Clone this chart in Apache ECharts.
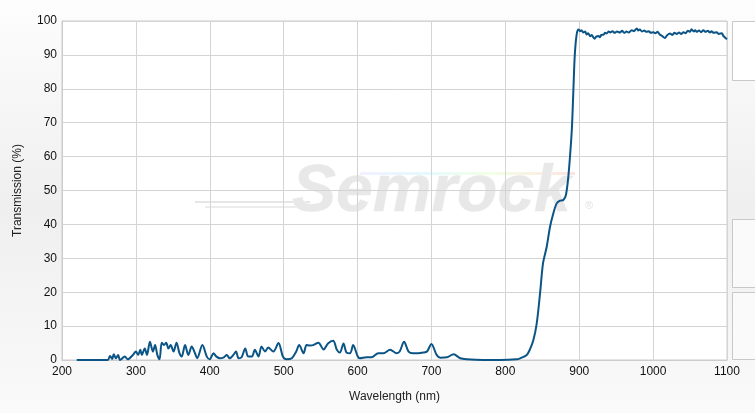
<!DOCTYPE html>
<html>
<head>
<meta charset="utf-8">
<script src="https://cdn.jsdelivr.net/npm/echarts@6/dist/echarts.min.js"></script>
<style>
html,body{margin:0;padding:0;width:755px;height:413px;overflow:hidden;}
#c{width:755px;height:413px;}
</style>
</head>
<body>
<div id="c"></div>
<script>
// Wavelength (nm) samples
const wavelength = [
  220, 238, 262, 265, 268, 270, 273, 276, 278.5, 285, 289, 296, 300, 303, 306, 308, 312, 315, 319, 323,
  326, 329, 332, 335, 338, 341, 344, 347, 351, 355, 359, 362, 366.5, 371, 375.5, 380, 383, 390, 396, 400,
  405, 409, 414, 419, 423, 427, 432, 435.5, 439, 443, 448, 452, 457, 461, 466, 470, 475, 479, 486, 493,
  499, 504, 511, 517, 521, 527, 531, 536, 540, 547, 554, 560, 567, 572, 576, 581, 585, 590, 594, 600,
  603, 612, 619, 628, 635, 644, 653, 657, 663, 669, 675, 682, 689, 694, 700, 707, 712, 721, 730, 739,
  748, 770, 793, 815, 820, 829, 833, 838, 842.5, 847, 851, 856, 860.5, 865, 869.5, 874, 878.5, 882, 885, 887.5,
  890, 892, 894, 896.5,
  899, 901, 903, 905.5, 908, 910, 912, 915, 917, 919, 921, 923, 926, 928, 930, 933, 935, 937, 940, 942,
  945, 948, 951, 955, 958, 961, 964, 967, 971, 974, 978, 980, 982, 985, 988, 991, 994, 997, 1000, 1003,
  1006, 1009, 1012, 1016, 1019, 1023, 1026, 1029, 1032, 1035, 1038, 1041, 1044, 1047, 1050, 1052, 1055, 1057, 1059, 1062,
  1065, 1068, 1071, 1074, 1077, 1079, 1082, 1086, 1089, 1093, 1095, 1097, 1100
];
// Transmission (%) values
const transmission = [
  0, 0, 0, 1.2, 0.3, 1.7, 0.5, 1.5, 0, 1, 0.2, 1.5, 2.5, 1.5, 3, 1.5, 3.4, 1.5, 5.4, 2.5,
  4.4, 1.5, 0.2, 5.1, 4.4, 5.1, 3.4, 4.4, 2.5, 5.1, 2, 1, 4.4, 1.5, 4, 2, 0.5, 4.4, 1, 0.2,
  2, 1, 0.5, 0.8, 1.5, 0.5, 1.5, 2.5, 0.5, 0.8, 3.4, 1, 1, 3, 1, 4, 2.5, 3.7, 2.5, 5,
  1, 0.2, 0.5, 2.5, 4.4, 2, 4.4, 4.3, 4.4, 5.1, 3.1, 4.9, 5.7, 3, 2.2, 4.9, 2.2, 2, 4.4, 1.2,
  0.5, 0.8, 0.8, 2, 2, 3, 2, 2.5, 5.4, 2.5, 2, 2, 2.2, 2.5, 4.7, 1.5, 0.7, 0.8, 1.7, 0.5,
  0.2, 0, 0, 0.2, 0.5, 1.5, 3, 5.9, 10.8, 19.7, 28.5, 33.4, 39.3, 43.3, 46.2, 47, 47.2, 48.7, 53.5, 60,
  68, 79, 90, 96,
  97.5, 97.0, 97.3, 96.6, 96.9, 96.0, 96.4, 95.5, 95.9, 95.2, 94.8, 95.4, 95.6, 95.2, 95.9, 96.0, 96.5, 96.3, 96.9, 96.6,
  97.0, 96.5, 96.9, 96.6, 97.1, 96.5, 96.9, 96.6, 97.3, 97.0, 97.8, 97.2, 97.5, 96.9, 97.2, 96.8, 97.0, 96.5, 96.7, 96.4,
  96.8, 96.0, 95.6, 95.0, 95.8, 96.3, 95.9, 96.5, 96.2, 96.6, 96.2, 96.7, 96.4, 97.1, 96.8, 97.6, 96.9, 97.3, 96.8, 97.2,
  96.7, 97.3, 96.8, 97.1, 96.6, 97.0, 96.5, 96.7, 96.2, 96.4, 95.6, 95.2, 94.6
];
const xTicks = [200, 1100, 100];   // min, max, interval
const yTicks = [0, 100, 10];

const seriesData = wavelength.map((w, i) => [w, transmission[i]]);

const chart = echarts.init(document.getElementById('c'), null, {renderer: 'canvas'});
const font = 'Arial, "Liberation Sans", sans-serif';

chart.setOption({
  animation: false,
  backgroundColor: {
    type: 'linear', x: 0, y: 0, x2: 0, y2: 1,
    colorStops: [
      {offset: 0, color: '#fdfdfd'},
      {offset: 0.5, color: '#efefef'},
      {offset: 1, color: '#fafafa'}
    ]
  },
  grid: {left: 62, right: 28, top: 21, bottom: 53, show: true, backgroundColor: '#ffffff', borderColor: '#cccccc', borderWidth: 1},
  graphic: [
    // side panels
    {type: 'rect', shape: {x: 732.5, y: 21.5, width: 30, height: 59}, style: {fill: '#ffffff', stroke: '#c8c8c8', lineWidth: 1}},
    {type: 'rect', shape: {x: 732.5, y: 219.5, width: 30, height: 68}, style: {fill: '#fafafa', stroke: '#c8c8c8', lineWidth: 1}},
    {type: 'rect', shape: {x: 732.5, y: 292.5, width: 30, height: 67}, style: {fill: '#fafafa', stroke: '#c8c8c8', lineWidth: 1}},
    // watermark
    {type: 'group', z: -1, silent: true, children: [
      {type: 'rect', shape: {x: 360, y: 172, width: 215, height: 3}, style: {fill: {type: 'linear', x: 0, y: 0, x2: 1, y2: 0, colorStops: [
        {offset: 0, color: 'rgba(200,200,255,0.25)'}, {offset: 0.3, color: 'rgba(180,240,255,0.35)'},
        {offset: 0.6, color: 'rgba(220,255,180,0.35)'}, {offset: 1, color: 'rgba(255,190,190,0.45)'}]}}},
      {type: 'rect', shape: {x: 195, y: 201, width: 115, height: 2}, style: {fill: '#e6e6e6'}},
      {type: 'rect', shape: {x: 205, y: 206, width: 105, height: 2}, style: {fill: '#ececec'}},
      {type: 'text', x: 292, y: 160, style: {text: 'Semrock', font: 'italic bold 66px Arial, "Liberation Sans", sans-serif', fill: '#e8e8e8', stroke: '#f4f4f4', lineWidth: 1}},
      {type: 'text', x: 585, y: 200, style: {text: '®', font: '11px Arial, "Liberation Sans", sans-serif', fill: '#e2e2e2'}}
    ]}
  ],
  xAxis: {
    type: 'value', min: xTicks[0], max: xTicks[1], interval: xTicks[2],
    name: 'Wavelength (nm)', nameLocation: 'middle', nameGap: 31,
    nameTextStyle: {color: '#222', fontSize: 12, fontFamily: font},
    axisLine: {show: true, lineStyle: {color: '#cccccc'}},
    axisTick: {show: false},
    axisLabel: {color: '#111', fontSize: 12, fontFamily: font, margin: 6, formatter: v => String(v)},
    splitLine: {show: true, lineStyle: {color: '#d4d4d4', width: 1}}
  },
  yAxis: {
    type: 'value', min: yTicks[0], max: yTicks[1], interval: yTicks[2],
    name: 'Transmission (%)', nameLocation: 'middle', nameGap: 38, nameRotate: 90,
    nameTextStyle: {color: '#222', fontSize: 12, fontFamily: font},
    axisLine: {show: true, lineStyle: {color: '#cccccc'}},
    axisTick: {show: false},
    axisLabel: {color: '#111', fontSize: 12, fontFamily: font, margin: 5},
    splitLine: {show: true, lineStyle: {color: '#d4d4d4', width: 1}}
  },
  series: [{
    type: 'line',
    data: seriesData,
    showSymbol: false,
    smooth: 0.3,
    lineStyle: {color: '#0b5486', width: 2},
    clip: true
  }]
});
</script>
</body>
</html>
